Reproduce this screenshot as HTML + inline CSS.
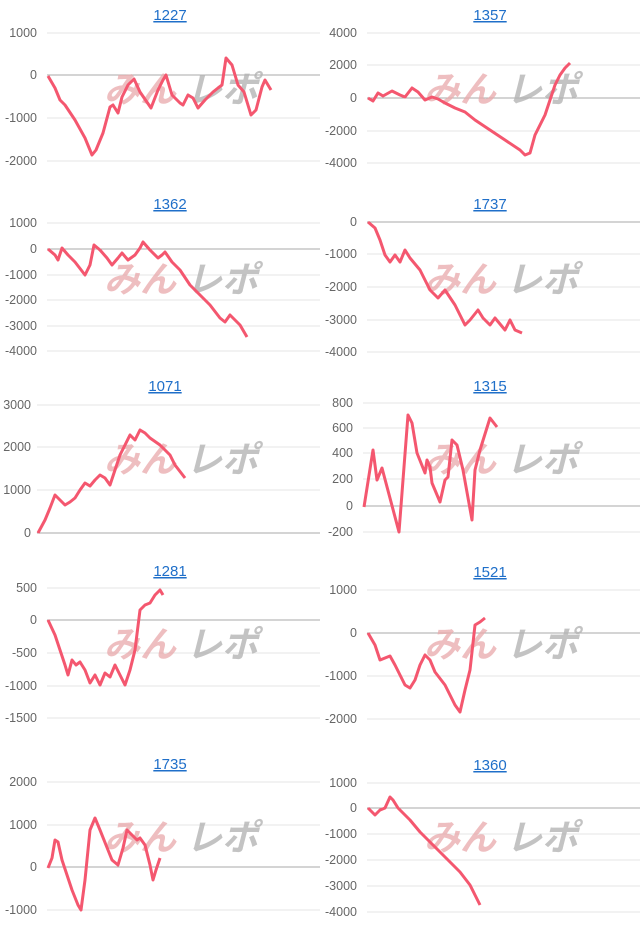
<!DOCTYPE html>
<html><head><meta charset="utf-8"><style>
body{margin:0;background:#fff;width:640px;height:931px;overflow:hidden}
svg{display:block}
.t{font:15px "Liberation Sans",sans-serif;fill:#1f6fc9;text-decoration:underline}
.l{font:12.5px "Liberation Sans",sans-serif;fill:#666}
.wm{font:italic bold 36px "Liberation Sans","Noto Sans CJK JP",sans-serif}
</style></head><body>
<svg id="s" width="640" height="931" xmlns="http://www.w3.org/2000/svg"></svg>
<script>
const C=[
{t:"1227",tx:170,ty:20,ax:47,r:320,ticks:[[1000,33],[0,75],[-1000,118],[-2000,161]],wy:102,wx:104,
p:[[48,76],[55,88],[60,100],[65,105],[75,120],[85,138],[92,155],[96,150],[103,133],[110,107],[113,105],[118,113],[122,97],[128,85],[134,79],[140,92],[151,108],[158,90],[163,80],[166,75],[172,95],[180,103],[183,105],[188,95],[193,98],[198,108],[205,100],[213,92],[218,88],[222,85],[226,58],[232,65],[238,85],[244,92],[251,115],[256,110],[262,87],[265,80],[271,90]]},
{t:"1357",tx:490,ty:20,ax:367,r:640,ticks:[[4000,33],[2000,65],[0,98],[-2000,131],[-4000,163]],wy:102,wx:424,
p:[[368,98],[373,101],[378,93],[383,96],[392,91],[400,95],[405,97],[412,88],[418,92],[425,100],[432,97],[438,99],[445,103],[455,108],[465,112],[475,120],[490,130],[505,140],[520,150],[525,155],[530,153],[535,135],[545,115],[550,100],[555,85],[560,75],[565,68],[570,63]]},
{t:"1362",tx:170,ty:209,ax:47,r:320,ticks:[[1000,223],[0,249],[-1000,275],[-2000,300],[-3000,326],[-4000,351]],wy:292,wx:104,
p:[[48,249],[55,255],[58,260],[62,248],[68,255],[75,262],[85,275],[90,265],[94,245],[100,250],[107,258],[112,265],[118,258],[122,253],[128,260],[135,255],[140,248],[143,242],[150,250],[158,258],[162,255],[165,252],[172,262],[180,270],[190,285],[200,295],[210,305],[220,318],[225,322],[230,315],[240,325],[247,337]]},
{t:"1737",tx:490,ty:209,ax:367,r:640,ticks:[[0,222],[-1000,254],[-2000,287],[-3000,320],[-4000,352]],wy:292,wx:424,
p:[[368,222],[375,228],[380,240],[385,255],[390,262],[395,255],[400,262],[405,250],[410,258],[420,270],[430,290],[438,298],[445,290],[455,305],[465,325],[470,320],[478,310],[483,318],[490,325],[495,318],[505,330],[510,320],[515,330],[522,333]]},
{t:"1071",tx:165,ty:391,ax:37,lo:6,r:320,ticks:[[3000,405],[2000,447],[1000,490],[0,533]],wy:472,wx:104,
p:[[38,533],[45,520],[50,508],[55,495],[60,500],[65,505],[70,502],[75,498],[80,490],[85,483],[90,486],[95,480],[100,475],[105,478],[110,485],[115,470],[120,455],[125,445],[130,435],[135,440],[140,430],[145,433],[150,438],[160,445],[165,450],[170,455],[175,465],[185,478]]},
{t:"1315",tx:490,ty:391,ax:363,r:640,ticks:[[800,403],[600,428],[400,453],[200,479],[0,506],[-200,532]],wy:472,wx:424,
p:[[364,507],[373,450],[377,480],[382,468],[399,532],[408,415],[412,423],[417,453],[425,473],[427,460],[430,467],[432,483],[440,502],[445,480],[448,477],[452,440],[457,445],[463,470],[472,520],[475,470],[480,450],[490,418],[497,427]]},
{t:"1281",tx:170,ty:576,ax:47,r:320,ticks:[[500,588],[0,620],[-500,653],[-1000,686],[-1500,718]],wy:657,wx:104,
p:[[48,620],[55,635],[60,650],[65,665],[68,675],[72,660],[76,665],[80,662],[85,670],[90,683],[95,675],[100,685],[105,673],[110,677],[115,665],[120,675],[125,685],[130,670],[135,650],[140,610],[145,605],[150,603],[155,595],[160,590],[163,595]]},
{t:"1521",tx:490,ty:577,ax:367,r:640,ticks:[[1000,590],[0,633],[-1000,676],[-2000,719]],wy:657,wx:424,
p:[[368,633],[375,645],[380,660],[385,658],[390,656],[395,665],[400,675],[405,685],[410,688],[415,680],[420,665],[425,655],[430,660],[435,672],[445,685],[450,695],[455,705],[460,712],[465,690],[470,670],[475,625],[480,622],[485,618]]},
{t:"1735",tx:170,ty:769,ax:47,r:320,ticks:[[2000,782],[1000,825],[0,867],[-1000,910]],wy:850,wx:104,
p:[[48,868],[52,858],[55,840],[58,842],[62,860],[68,878],[72,890],[78,905],[81,910],[85,880],[90,830],[95,818],[100,830],[108,850],[112,860],[118,865],[123,848],[127,830],[132,835],[137,840],[140,838],[145,845],[150,865],[153,880],[156,870],[160,858]]},
{t:"1360",tx:490,ty:770,ax:367,r:640,ticks:[[1000,783],[0,808],[-1000,834],[-2000,860],[-3000,886],[-4000,912]],wy:850,wx:424,
p:[[368,808],[375,815],[380,810],[385,808],[390,797],[393,800],[398,808],[410,820],[420,832],[430,842],[440,852],[450,862],[460,872],[470,885],[475,895],[480,905]]}
];
let h="";
for(const c of C){
 const lo=c.lo||10;
 h+=`<text class="t" x="${c.tx}" y="${c.ty}" text-anchor="middle">${c.t}</text>`;
 for(const [v,y] of c.ticks){
  h+=`<line x1="${c.ax}" x2="${c.r}" y1="${y}" y2="${y}" stroke="${v==0?'#aaa':'#e4e4e4'}" stroke-width="1"/>`;
  h+=`<text class="l" x="${c.ax-lo}" y="${y+4}" text-anchor="end">${v}</text>`;
 }
 h+=`<text class="wm" x="${c.wx}" y="${c.wy}" fill="#e9a9ab" opacity="0.75">みん</text><text class="wm" x="${c.wx+82}" y="${c.wy}" fill="#b5b5b5" opacity="0.8">レポ</text>`;
 h+=`<polyline fill="none" stroke="#f4576f" stroke-width="3" stroke-linejoin="round" points="${c.p.map(q=>q.join(',')).join(' ')}"/>`;
}
document.getElementById('s').innerHTML=h;
</script>
</body></html>
